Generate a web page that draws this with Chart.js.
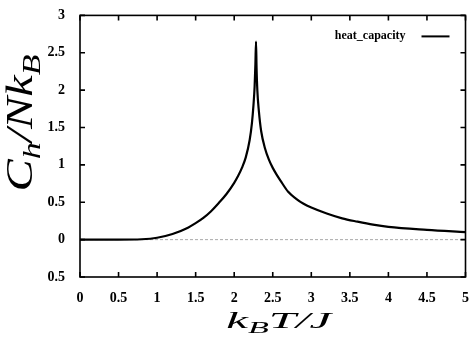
<!DOCTYPE html>
<html>
<head>
<meta charset="utf-8">
<script src="https://cdn.jsdelivr.net/npm/chart.js@4"></script>
<style>
  html, body { margin: 0; padding: 0; background: #fff; }
  #wrap { width: 474px; height: 341px; }
</style>
</head>
<body>
<div id="wrap"><canvas id="myChart" width="474" height="341"></canvas></div>
<script>
// temperatures k_B T / J and heat capacity
const temps   = [0, 0.5, 0.8, 1.0, 1.2, 1.4, 1.5, 1.6, 1.7, 1.8, 1.9, 2.0, 2.05, 2.1, 2.15, 2.2, 2.23, 2.25, 2.265, 2.275, 2.283,
                 2.29, 2.3, 2.32, 2.35, 2.4, 2.45, 2.5, 2.55, 2.6, 2.7, 2.8, 2.9, 3.0, 3.2, 3.4, 3.6, 3.8, 4.0, 4.5, 5.0];
const heatCap = [0, 0, 0.005, 0.025, 0.075, 0.16, 0.22, 0.29, 0.38, 0.49, 0.61, 0.76, 0.85, 0.96, 1.1, 1.33, 1.56, 1.8, 2.05, 2.35, 2.65,
                 2.3, 2.0, 1.72, 1.45, 1.22, 1.07, 0.96, 0.87, 0.79, 0.64, 0.55, 0.48, 0.43, 0.35, 0.285, 0.24, 0.2, 0.17, 0.13, 0.10];

const xTicks = [0, 0.5, 1, 1.5, 2, 2.5, 3, 3.5, 4, 4.5, 5];
const yTicks = [-0.5, 0, 0.5, 1, 1.5, 2, 2.5, 3];
const yTickLabels = ['0.5', '0', '0.5', '1', '1.5', '2', '2.5', '3'];

const seriesName = 'heat_capacity';

const serif = '"Liberation Serif", "DejaVu Serif", serif';

// draws italic math-like text with subscripts, stretched to a target width
function drawMath(ctx, segs, size, targetW) {
    let total = 0;
    const widths = segs.map(s => {
        ctx.font = 'italic ' + (s.sub ? size * 0.7 : size) + 'px ' + serif;
        const w = ctx.measureText(s.t).width;
        total += w;
        return w;
    });
    ctx.scale(targetW / total, 1);
    let x = -total / 2;
    ctx.textAlign = 'left';
    ctx.textBaseline = 'alphabetic';
    ctx.fillStyle = '#000';
    segs.forEach((s, i) => {
        ctx.font = 'italic ' + (s.sub ? size * 0.7 : size) + 'px ' + serif;
        ctx.fillText(s.t, x, s.sub ? size * 0.22 : 0);
        x += widths[i];
    });
}

const framePlugin = {
    id: 'frame',
    beforeDatasetsDraw(chart) {
        const ctx = chart.ctx;
        const a = chart.chartArea;
        const y0 = chart.scales.y.getPixelForValue(0);
        ctx.save();
        ctx.strokeStyle = '#aaa';
        ctx.lineWidth = 1;
        ctx.setLineDash([3, 2]);
        ctx.beginPath();
        ctx.moveTo(a.left, y0);
        ctx.lineTo(a.right, y0);
        ctx.stroke();
        ctx.restore();
    },
    afterDraw(chart) {
        const ctx = chart.ctx;
        const a = chart.chartArea;
        const xs = chart.scales.x;
        const ys = chart.scales.y;
        ctx.save();
        ctx.strokeStyle = '#000';
        ctx.lineWidth = 1.6;
        ctx.strokeRect(a.left, a.top, a.right - a.left, a.bottom - a.top);

        // inward ticks on all four sides
        const len = 5;
        ctx.beginPath();
        xTicks.forEach(v => {
            const px = xs.getPixelForValue(v);
            ctx.moveTo(px, a.bottom); ctx.lineTo(px, a.bottom - len);
            ctx.moveTo(px, a.top); ctx.lineTo(px, a.top + len);
        });
        yTicks.forEach(v => {
            const py = ys.getPixelForValue(v);
            ctx.moveTo(a.left, py); ctx.lineTo(a.left + len, py);
            ctx.moveTo(a.right, py); ctx.lineTo(a.right - len, py);
        });
        ctx.stroke();

        // legend in the top right corner
        ctx.font = 'bold 12px ' + serif;
        ctx.fillStyle = '#000';
        ctx.textAlign = 'right';
        ctx.textBaseline = 'middle';
        ctx.fillText(seriesName, a.right - 60, a.top + 21);
        ctx.lineWidth = 2;
        ctx.beginPath();
        ctx.moveTo(a.right - 44, a.top + 21);
        ctx.lineTo(a.right - 16, a.top + 21);
        ctx.stroke();
        ctx.restore();

        // x axis title: k_B T / J
        ctx.save();
        ctx.translate((a.left + a.right) / 2 + 6, 328);
        drawMath(ctx, [{t: 'k'}, {t: 'B', sub: true}, {t: 'T/J'}], 24, 105);
        ctx.restore();

        // y axis title: C_h / N k_B
        ctx.save();
        ctx.translate(32, 123);
        ctx.rotate(-Math.PI / 2);
        drawMath(ctx, [{t: 'C'}, {t: 'h', sub: true}, {t: '/Nk'}, {t: 'B', sub: true}], 37, 137);
        ctx.restore();
    }
};

const ctx = document.getElementById('myChart').getContext('2d');
new Chart(ctx, {
    type: 'line',
    data: {
        datasets: [{
            label: seriesName,
            data: temps.map((t, i) => ({ x: t, y: heatCap[i] })),
            borderColor: '#000',
            borderWidth: 2.2,
            pointRadius: 0,
            fill: false,
            cubicInterpolationMode: 'monotone'
        }]
    },
    options: {
        responsive: false,
        animation: false,
        layout: { padding: { top: 6, right: 1, left: 0, bottom: 0 } },
        plugins: {
            legend: { display: false },
            tooltip: { enabled: false }
        },
        scales: {
            x: {
                type: 'linear',
                min: 0,
                max: 5,
                grid: { display: false },
                border: { display: false },
                afterBuildTicks: s => { s.ticks = xTicks.map(v => ({ value: v })); },
                ticks: {
                    padding: 5,
                    maxRotation: 0,
                    color: '#000',
                    font: { family: serif, size: 14, weight: 'bold' },
                    callback: v => String(v)
                },
                afterFit: s => { s.height = 64; }
            },
            y: {
                min: -0.5,
                max: 3,
                grid: { display: false },
                border: { display: false },
                afterBuildTicks: s => { s.ticks = yTicks.map(v => ({ value: v })); },
                ticks: {
                    padding: 7,
                    color: '#000',
                    font: { family: serif, size: 14, weight: 'bold' },
                    callback: (v, i) => yTickLabels[i]
                },
                afterFit: s => { s.width = 80; }
            }
        }
    },
    plugins: [framePlugin]
});
</script>
</body>
</html>
